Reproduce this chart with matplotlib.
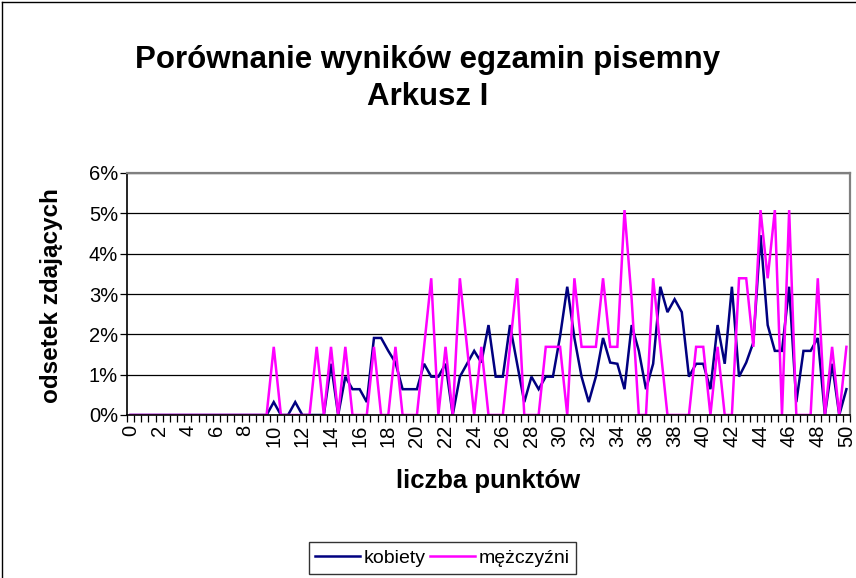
import matplotlib
matplotlib.use("Agg")
import matplotlib.pyplot as plt
from matplotlib.ticker import FuncFormatter, FixedLocator
from matplotlib.lines import Line2D

plt.rcParams['font.family'] = ['Liberation Sans', 'DejaVu Sans']

# score categories 0, 0.5, ..., 50
points = [i / 2 for i in range(101)]
tick_labels = [str(v) for v in range(0, 51, 2)]

# percent of women (kobiety)
kobiety = [0]*20 + [
    0.32, 0, 0, 0.32, 0, 0, 0, 0, 1.27, 0,          # 10 - 14.5
    0.95, 0.64, 0.64, 0.32, 1.91, 1.91, 1.59, 1.30, 0.64, 0.64,  # 15 - 19.5
    0.64, 1.27, 0.95, 0.95, 1.27, 0, 0.95, 1.27, 1.59, 1.30,     # 20 - 24.5
    2.23, 0.95, 0.95, 2.23, 1.27, 0.32, 0.95, 0.64, 0.95, 0.95,  # 25 - 29.5
    1.95, 3.18, 1.91, 0.95, 0.32, 0.95, 1.91, 1.30, 1.27, 0.64,  # 30 - 34.5
    2.23, 1.59, 0.64, 1.27, 3.18, 2.55, 2.87, 2.55, 0.95, 1.27,  # 35 - 39.5
    1.27, 0.64, 2.23, 1.27, 3.18, 0.95, 1.30, 1.80, 4.46, 2.23,  # 40 - 44.5
    1.59, 1.59, 3.18, 0.32, 1.59, 1.59, 1.91, 0, 1.27, 0,        # 45 - 49.5
    0.64]                                                        # 50

# percent of men (mężczyźni)
mezczyzni = [0]*20 + [
    1.69, 0, 0, 0, 0, 0, 1.69, 0, 1.69, 0,          # 10 - 14.5
    1.69, 0, 0, 0, 1.69, 0, 0, 1.69, 0, 0,          # 15 - 19.5
    0, 1.69, 3.39, 0, 1.69, 0, 3.39, 1.69, 0, 1.69, # 20 - 24.5
    0, 0, 0, 1.69, 3.39, 0, 0, 0, 1.69, 1.69,       # 25 - 29.5
    1.69, 0, 3.39, 1.69, 1.69, 1.69, 3.39, 1.69, 1.69, 5.08,  # 30 - 34.5
    2.86, 0, 0, 3.39, 1.69, 0, 0, 0, 0, 1.69,       # 35 - 39.5
    1.69, 0, 1.69, 0, 0, 3.39, 3.39, 1.69, 5.08, 3.39,  # 40 - 44.5
    5.08, 0, 5.08, 0, 0, 0, 3.39, 0, 1.69, 0,       # 45 - 49.5
    1.69]                                           # 50

W, H = 856, 578
fig = plt.figure(figsize=(W/100, H/100), dpi=100)

def fx(px):
    return px / W

def fy(py):
    return 1 - py / H

ax = fig.add_axes([fx(127), fy(415), fx(850) - fx(127), fy(173) - fy(415)])

ax.plot(points, [v/100 for v in kobiety], color='#000080', lw=1.8, solid_joinstyle='miter', label='kobiety')
ax.plot(points, [v/100 for v in mezczyzni], color='#FF00FF', lw=1.8, solid_joinstyle='miter', label='mężczyźni')

ax.set_xlim(-0.25, 50.25)
ax.set_ylim(0, 0.06)
ax.set_yticks([0, 0.01, 0.02, 0.03, 0.04, 0.05, 0.06])
ax.yaxis.set_major_formatter(FuncFormatter(lambda v, p: f"{v*100:.0f}%"))
ax.yaxis.grid(True, color='#000000', lw=0.9)
ax.set_axisbelow(True)

ax.set_xticks([float(t) for t in tick_labels])
ax.set_xticklabels(tick_labels, rotation=90, fontsize=14.5)
ax.xaxis.set_minor_locator(FixedLocator([i/2 - 0.25 for i in range(102)]))
ax.tick_params(axis='x', which='major', length=0, pad=7)
ax.tick_params(axis='x', which='minor', length=5, width=0.9, color='black', direction='out')
ax.tick_params(axis='y', which='major', length=5, width=0.9, labelsize=14.5, pad=1.5)

for s in ['top', 'right']:
    ax.spines[s].set_color('#808080')
    ax.spines[s].set_linewidth(1.6)
for s in ['left', 'bottom']:
    ax.spines[s].set_color('black')
    ax.spines[s].set_linewidth(1.2)

fig.text(fx(428), fy(60), 'Porównanie wyników egzamin pisemny', ha='center', va='center',
         fontsize=22.5, fontweight='bold')
fig.text(fx(428), fy(97), 'Arkusz I', ha='center', va='center',
         fontsize=22.5, fontweight='bold')

fig.text(fx(52), fy(296), 'odsetek zdających', rotation=90, ha='center', va='center',
         fontsize=17.5, fontweight='bold')
fig.text(fx(488), fy(481), 'liczba punktów', ha='center', va='center',
         fontsize=18.5, fontweight='bold')

leg = fig.legend(loc='center', bbox_to_anchor=(fx(442.5), fy(558)), ncol=2,
                 fontsize=14, frameon=True, fancybox=False, edgecolor='black',
                 handlelength=2.3, handletextpad=0.2, columnspacing=0.2,
                 borderpad=0.35, borderaxespad=0)
leg.get_frame().set_linewidth(1.0)

# chart area border
fig.add_artist(Line2D([fx(1.5), fx(1.5)], [0, fy(1.5)], color='black', lw=1.0, transform=fig.transFigure))
fig.add_artist(Line2D([fx(1.5), 1], [fy(1.5), fy(1.5)], color='black', lw=1.0, transform=fig.transFigure))

fig.savefig('out.png', dpi=100)
